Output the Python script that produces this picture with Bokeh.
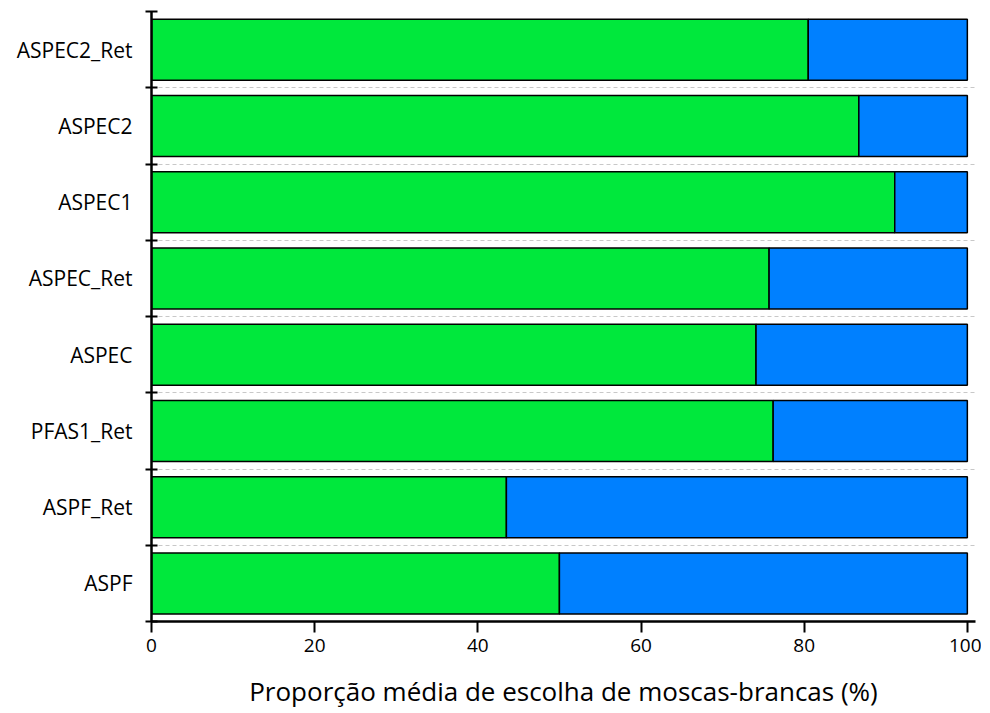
from bokeh.plotting import figure
from bokeh.models import FixedTicker, CustomJSTickFormatter, Range1d, ColumnDataSource
from bokeh.embed import file_html
from bokeh.resources import INLINE

categories = ["ASPF", "ASPF_Ret", "PFAS1_Ret", "ASPEC", "ASPEC_Ret", "ASPEC1", "ASPEC2", "ASPEC2_Ret"]
green_vals = [50.0, 43.5, 76.2, 74.1, 75.7, 91.1, 86.7, 80.5]
blue_vals = [100 - g for g in green_vals]
x_ticks = [0, 20, 40, 60, 80, 100]

ypos = [i + 0.5 for i in range(len(categories))]
src = ColumnDataSource(dict(y=ypos, g=green_vals, total=[g + b for g, b in zip(green_vals, blue_vals)]))

FONT = "Open Sans"

p = figure(width=981, height=711, output_backend="svg", toolbar_location=None,
           x_range=Range1d(0, 101), y_range=Range1d(0, len(categories)),
           min_border_left=151, min_border_right=6, min_border_top=11, min_border_bottom=80)
p.outline_line_color = None
p.background_fill_color = "white"

p.hbar(y="y", left=0, right="g", height=0.8, source=src,
       fill_color="#00E83C", line_color="black", line_width=1.5)
p.hbar(y="y", left="g", right="total", height=0.8, source=src,
       fill_color="#0080FF", line_color="black", line_width=1.5)

# x axis
p.xaxis.ticker = FixedTicker(ticks=x_ticks)
p.xaxis.axis_line_width = 2.5
p.xaxis.major_tick_line_width = 2
p.xaxis.major_tick_out = 11
p.xaxis.major_tick_in = 0
p.xaxis.minor_tick_line_color = None
p.xaxis.major_label_text_font = FONT
p.xaxis.major_label_text_font_size = "19px"
p.xaxis.major_label_text_color = "black"
p.xaxis.major_label_standoff = 6
p.xaxis.axis_label = "Proporção média de escolha de moscas-brancas (%)"
p.xaxis.axis_label_text_font = FONT
p.xaxis.axis_label_text_font_size = "26px"
p.xaxis.axis_label_text_font_style = "normal"
p.xaxis.axis_label_text_color = "black"
p.xaxis.axis_label_standoff = 18

# y axis
p.yaxis.ticker = FixedTicker(ticks=ypos, minor_ticks=list(range(len(categories) + 1)))
p.yaxis.formatter = CustomJSTickFormatter(args=dict(labs=categories),
                                          code="return labs[Math.floor(tick)];")
p.yaxis.axis_line_width = 2.5
p.yaxis.major_tick_line_color = None
p.yaxis.major_tick_out = 0
p.yaxis.major_tick_in = 0
p.yaxis.minor_tick_line_color = "black"
p.yaxis.minor_tick_line_width = 2
p.yaxis.minor_tick_out = 6
p.yaxis.minor_tick_in = 6
p.yaxis.major_label_text_font = FONT
p.yaxis.major_label_text_font_size = "21px"
p.yaxis.major_label_text_color = "black"
p.yaxis.major_label_standoff = 13

# grid
p.xgrid.grid_line_color = None
p.ygrid.ticker = FixedTicker(ticks=list(range(1, len(categories))))
p.ygrid.grid_line_color = "#c8c8c8"
p.ygrid.grid_line_dash = "4 3"
p.ygrid.grid_line_width = 1

open("out.html", "w").write(file_html(p, INLINE))
